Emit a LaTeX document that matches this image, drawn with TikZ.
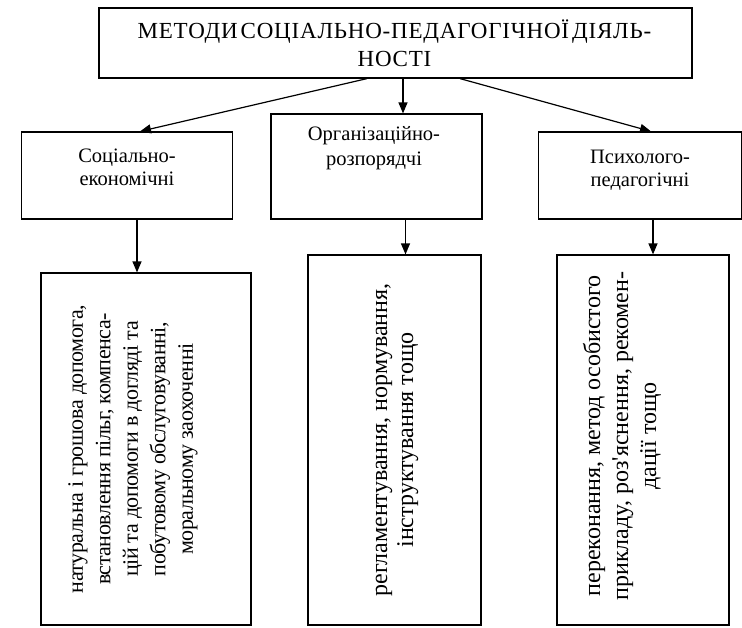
\documentclass[tikz,border=0pt]{standalone}
\usepackage{fontspec}
\setmainfont{Liberation Serif}
\usetikzlibrary{arrows.meta}
\tikzset{
  x=1pt, y=-1pt,
  box/.style={draw, line width=1.2pt, inner sep=0pt},
  arr/.style={line width=1.2pt, -{Triangle[length=11pt,width=9pt]}},
  toptext/.style={inner sep=0pt, align=center, font=\fontsize{23}{28}\selectfont\addfontfeature{LetterSpace=3.5}},
  midtext/.style={inner sep=0pt, align=center, font=\fontsize{20.5}{23}\selectfont},
  rottext/.style={inner sep=0pt, align=center, rotate=90},
}
\begin{document}
\begin{tikzpicture}
\useasboundingbox (0,0) rectangle (742,627);
% top box
\node[box, minimum width=593pt, minimum height=70pt] (top) at (395.5,43) {};
\node[toptext, anchor=base] (toptxt) at (394.5,66) {МЕТОДИ\hspace{3pt}СОЦІАЛЬНО-ПЕДАГОГІЧНОЇ\hspace{3pt}ДІЯЛЬ-\\НОСТІ};
% second level boxes
\node[box, minimum width=211.5pt, minimum height=87pt] (b1) at (127,175.5) {};
\node[box, minimum width=211pt, minimum height=105pt] (b2) at (376.5,166.5) {};
\node[box, minimum width=202.5pt, minimum height=87pt] (b3) at (640,175.5) {};
\node[midtext, anchor=base] (t1) at (127,185) {Соціально-\\економічні};
\node[midtext, anchor=base, font=\fontsize{20.5}{25}\selectfont] (t2) at (374,165) {Організаційно-\\розпорядчі};
\node[midtext, anchor=base] (t3) at (640,186) {Психолого-\\педагогічні};
% third level boxes
\node[box, minimum width=210pt, minimum height=352pt] (l1) at (146,449) {};
\node[box, minimum width=173pt, minimum height=370pt] (l2) at (394.5,440) {};
\node[box, minimum width=172pt, minimum height=370pt] (l3) at (643,440) {};
\node[rottext, font=\fontsize{22}{27.5}\selectfont\addfontfeature{LetterSpace=-2}] (r1) at (133,449) {натуральна і грошова допомога,\\встановлення пільг, компенса-\\цій та допомоги в догляді та\\побутовому обслуговуванні,\\моральному заохоченні};
\node[rottext, font=\fontsize{24}{26}\selectfont] (r2) at (397,440) {регламентування, нормування,\\інструктування тощо};
\node[rottext, font=\fontsize{24}{28}\selectfont] (r3) at (622,436) {переконання, метод особистого\\прикладу, роз\textquotesingle яснення, рекомен-\\дації тощо};
% connectors
\draw[arr] ([xshift=-28.5pt]top.south) -- ([xshift=13pt]b1.north);
\draw[arr] ([xshift=7.5pt]top.south) -- ([xshift=7.5pt]top.south |- b2.north);
\draw[arr] ([xshift=64.5pt]top.south) -- ([xshift=11pt]b3.north);
\draw[arr] ([xshift=10pt]b1.south) -- ([xshift=10pt]b1.south |- l1.north);
\draw[arr] ([xshift=29pt]b2.south) -- ([xshift=29pt]b2.south |- l2.north);
\draw[arr] ([xshift=13pt]b3.south) -- ([xshift=13pt]b3.south |- l3.north);
\end{tikzpicture}
\end{document}
